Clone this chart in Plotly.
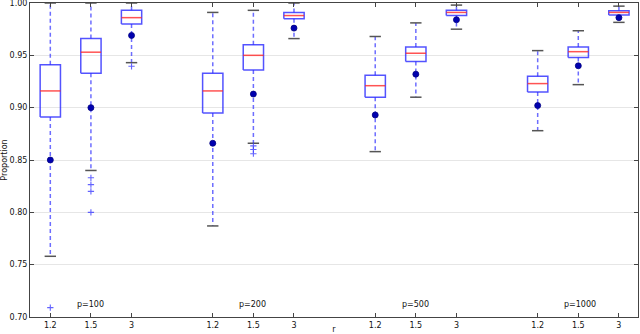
import plotly.graph_objects as go

# ---- data ----
groups = ["p=100", "p=200", "p=500", "p=1000"]
r_labels = ["1.2", "1.5", "3"]
positions = [1, 2, 3, 5, 6, 7, 9, 10, 11, 13, 14, 15]

q1 = [0.891, 0.933, 0.980, 0.895, 0.936, 0.985, 0.910, 0.944, 0.988, 0.915, 0.948, 0.9885]
median = [0.916, 0.953, 0.986, 0.916, 0.950, 0.988, 0.921, 0.952, 0.991, 0.923, 0.9535, 0.991]
q3 = [0.941, 0.966, 0.993, 0.933, 0.960, 0.991, 0.931, 0.958, 0.993, 0.930, 0.958, 0.9925]
lower = [0.758, 0.840, 0.943, 0.787, 0.866, 0.966, 0.858, 0.910, 0.975, 0.878, 0.922, 0.9815]
upper = [1.000, 1.000, 1.000, 0.991, 0.993, 1.000, 0.968, 0.981, 0.998, 0.9545, 0.9735, 0.997]
means = [0.850, 0.900, 0.969, 0.866, 0.913, 0.976, 0.893, 0.932, 0.984, 0.902, 0.940, 0.986]
outliers = [
    [0.709],
    [0.833, 0.8265, 0.820, 0.800],
    [0.9395],
    [],
    [0.8635, 0.860, 0.856],
    [],
    [], [], [],
    [], [], [],
]

label_pos = [1.6, 5.6, 9.6, 13.6]
label_y = 0.712

# ---- styling ----
BOX_HALF = 0.25
CAP_HALF = 0.14
BLUE = "rgba(40,40,255,0.8)"
RED = "rgba(255,40,40,0.8)"
CAP = "#555555"
FONT = "DejaVu Sans"

bx, by, mx, my, wx, wy, cx, cy = [], [], [], [], [], [], [], []
ox, oy = [], []
for i, p in enumerate(positions):
    bx += [p - BOX_HALF, p + BOX_HALF, p + BOX_HALF, p - BOX_HALF, p - BOX_HALF, None]
    by += [q1[i], q1[i], q3[i], q3[i], q1[i], None]
    mx += [p - BOX_HALF, p + BOX_HALF, None]
    my += [median[i], median[i], None]
    wx += [p, p, None, p, p, None]
    wy += [q3[i], upper[i], None, q1[i], lower[i], None]
    cx += [p - CAP_HALF, p + CAP_HALF, None, p - CAP_HALF, p + CAP_HALF, None]
    cy += [upper[i], upper[i], None, lower[i], lower[i], None]
    for v in outliers[i]:
        ox.append(p)
        oy.append(v)

fig = go.Figure()
fig.add_trace(go.Scatter(x=wx, y=wy, mode="lines",
                         line=dict(color="rgba(60,60,255,0.75)", width=1.5, dash="4px,3px"),
                         hoverinfo="skip"))
fig.add_trace(go.Scatter(x=cx, y=cy, mode="lines", line=dict(color=CAP, width=1.5),
                         hoverinfo="skip"))
fig.add_trace(go.Scatter(x=bx, y=by, mode="lines", line=dict(color=BLUE, width=1.5),
                         hoverinfo="skip"))
fig.add_trace(go.Scatter(x=mx, y=my, mode="lines", line=dict(color=RED, width=1.5),
                         hoverinfo="skip"))
fig.add_trace(go.Scatter(x=ox, y=oy, mode="markers",
                         marker=dict(symbol="cross-thin", size=4.5,
                                     line=dict(color="rgba(60,60,255,0.8)", width=1.1)),
                         hoverinfo="skip"))
fig.add_trace(go.Scatter(x=positions, y=means, mode="markers",
                         marker=dict(symbol="circle", size=6, color="#0000b0",
                                     line=dict(color="#000080", width=0.8)),
                         hoverinfo="skip"))

annotations = [
    dict(x=x, y=label_y, xref="x", yref="y", text=t, showarrow=False,
         xanchor="left", yanchor="middle", font=dict(family=FONT, size=8, color="#111"))
    for x, t in zip(label_pos, groups)
]

fig.update_layout(
    width=640, height=334,
    margin=dict(l=30, r=2, t=3, b=17),
    paper_bgcolor="white", plot_bgcolor="white",
    showlegend=False,
    font=dict(family=FONT, size=8, color="#111"),
    annotations=annotations,
)
fig.update_xaxes(range=[0.5, 15.47], tickvals=positions, ticktext=r_labels * 4,
                 showgrid=False, zeroline=False, showline=True, linecolor="#444",
                 linewidth=1, mirror="ticks", ticks="inside", ticklen=4,
                 tickcolor="#444", automargin=False, ticklabelstandoff=0,
                 ticklabeloverflow="allow",
                 title=dict(text="r", standoff=0, font=dict(family=FONT, size=8)))
fig.update_yaxes(range=[0.70, 1.00], tickvals=[0.70, 0.75, 0.80, 0.85, 0.90, 0.95, 1.00],
                 tickformat=".2f", showgrid=True, gridcolor="#e6e6e6", gridwidth=1,
                 zeroline=False, showline=True, linecolor="#444", linewidth=1,
                 mirror="ticks", ticks="inside", ticklen=4, tickcolor="#444",
                 automargin=False, ticklabelstandoff=0, ticklabeloverflow="allow",
                 title=dict(text="Proportion", standoff=2, font=dict(family=FONT, size=8)))

fig.write_html("out.html", config={"displayModeBar": False},
               post_script="document.body.style.margin='0';")
